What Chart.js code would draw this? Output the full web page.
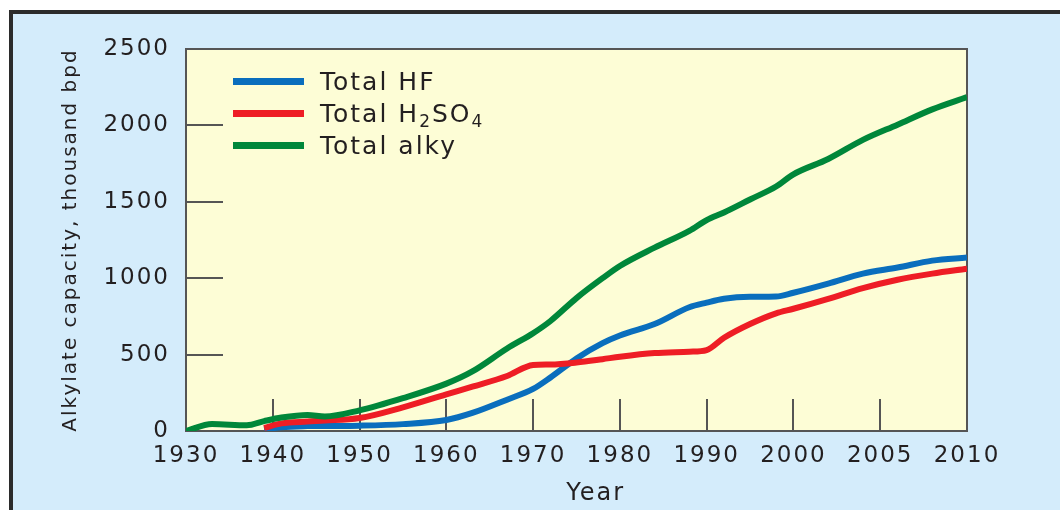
<!DOCTYPE html>
<html>
<head>
<meta charset="utf-8">
<title>Alkylate capacity</title>
<script src="https://cdn.jsdelivr.net/npm/chart.js@4.4.0/dist/chart.umd.min.js"></script>
<style>
  html, body { margin: 0; padding: 0; background: #fff; overflow: hidden; }
  #wrap { position: relative; width: 1060px; height: 510px; overflow: hidden; }
  #frame {
    position: absolute; left: 9px; top: 10px; width: 1100px; height: 560px;
    background: #d4ecfb; border-left: 4px solid #2b2b2b; border-top: 4px solid #2b2b2b;
  }
  #chart { position: absolute; left: 0; top: 0; }
  #legend {
    position: absolute; left: 233px; top: 65px;
    font-family: 'DejaVu Sans', sans-serif; font-size: 25px; letter-spacing: 2px; color: #231f20;
  }
  .row { display: flex; align-items: center; height: 32px; white-space: nowrap; }
  .swatch { display: inline-block; width: 71px; height: 7px; margin-right: 16px; }
  .row sub { font-size: 17px; line-height: 0; vertical-align: -5px; }
</style>
</head>
<body>
<div id="wrap">
  <div id="frame"></div>
  <canvas id="chart" width="1060" height="510"></canvas>
  <div id="legend"></div>
</div>
<script>
// x axis ticks are evenly spaced, but the last two steps are 5 years instead of 10
const tickYears = [1930, 1940, 1950, 1960, 1970, 1980, 1990, 2000, 2005, 2010];

const years = [1930, 1933, 1937, 1939, 1941, 1944, 1946, 1950, 1955, 1960, 1963, 1967, 1970, 1972,
               1975, 1978, 1980, 1984, 1988, 1990, 1992, 1995, 1998, 2000, 2002, 2004, 2006, 2008, 2010];

const hfValues = [null, null, null, 10, 25, 32, 33, 35, 45, 72, 118, 205, 275, 350,
                  475, 575, 625, 700, 810, 840, 865, 878, 880, 905, 965, 1030, 1070, 1115, 1135];

const h2so4Values = [null, null, null, 20, 50, 62, 68, 85, 155, 240, 290, 360, 432, 435,
                     448, 470, 486, 510, 519, 530, 610, 700, 770, 800, 865, 935, 990, 1030, 1062];

const alkyValues = [0, 45, 38, 65, 88, 105, 95, 135, 215, 310, 390, 540, 640, 720,
                    870, 1000, 1080, 1200, 1310, 1380, 1430, 1515, 1600, 1680, 1780, 1905, 2005, 2105, 2185];

const seriesNames = ['Total HF', 'Total H2SO4', 'Total alky'];
const seriesColors = ['#0a6ebd', '#ee1d25', '#00873a'];
const seriesValues = [hfValues, h2so4Values, alkyValues];

const FONT = "'DejaVu Sans', sans-serif";
const TEXT = '#231f20';

function yearToPos(year) {
    for (let i = 1; i < tickYears.length; i++) {
        if (year <= tickYears[i]) {
            return i - 1 + (year - tickYears[i - 1]) / (tickYears[i] - tickYears[i - 1]);
        }
    }
    return tickYears.length - 1;
}

// yellow plot box, its frame and the short inward tick marks
const plotDecor = {
    id: 'plotDecor',
    beforeLayout(chart) { chart.ctx.letterSpacing = '2px'; },
    beforeDraw(chart) { chart.ctx.letterSpacing = '2px'; },
    beforeDatasetsDraw(chart) {
        const { ctx, chartArea: a, scales: { x, y } } = chart;
        ctx.save();
        ctx.fillStyle = '#fdfdd6';
        ctx.fillRect(a.left, a.top, a.right - a.left, a.bottom - a.top);
        ctx.strokeStyle = '#555';
        ctx.lineWidth = 2;
        ctx.beginPath();
        y.ticks.forEach(t => {
            if (t.value > y.min && t.value < y.max) {
                const py = Math.round(y.getPixelForValue(t.value));
                ctx.moveTo(a.left, py);
                ctx.lineTo(a.left + 37, py);
            }
        });
        x.ticks.forEach(t => {
            if (t.value > x.min && t.value < x.max) {
                const px = Math.round(x.getPixelForValue(t.value));
                ctx.moveTo(px, a.bottom);
                ctx.lineTo(px, a.bottom - 32);
            }
        });
        ctx.stroke();
        ctx.strokeRect(a.left, a.top, a.right - a.left, a.bottom - a.top);
        ctx.restore();
    }
};

new Chart(document.getElementById('chart'), {
    type: 'line',
    data: {
        datasets: seriesNames.map((name, i) => ({
            label: name,
            data: years.map((yr, j) => ({ x: yearToPos(yr), y: seriesValues[i][j] })),
            borderColor: seriesColors[i],
            backgroundColor: seriesColors[i],
            borderWidth: 6,
            borderJoinStyle: 'round',
            pointRadius: 0,
            cubicInterpolationMode: 'monotone',
            order: 3 - i
        }))
    },
    options: {
        responsive: false,
        animation: false,
        layout: { padding: { left: 40, top: 49, right: 93, bottom: 0 } },
        plugins: {
            legend: { display: false },
            tooltip: { enabled: false }
        },
        scales: {
            x: {
                type: 'linear',
                min: 0,
                max: tickYears.length - 1,
                grid: { display: false },
                border: { display: false },
                ticks: {
                    stepSize: 1,
                    autoSkip: false,
                    maxRotation: 0,
                    padding: 3,
                    color: TEXT,
                    font: { family: FONT, size: 23 },
                    callback: v => tickYears[v]
                },
                title: {
                    display: true,
                    text: '    Year',
                    color: TEXT,
                    font: { family: FONT, size: 24, lineHeight: 1 },
                    padding: { top: 0, bottom: 4 }
                },
                afterFit: s => { s.height = 79; }
            },
            y: {
                min: 0,
                max: 2500,
                grid: { display: false },
                border: { display: false },
                ticks: {
                    stepSize: 500,
                    padding: 8,
                    color: TEXT,
                    font: { family: FONT, size: 23 },
                    callback: v => String(v)
                },
                title: {
                    display: true,
                    text: 'Alkylate capacity, thousand bpd',
                    color: TEXT,
                    font: { family: FONT, size: 20, lineHeight: 1.2 },
                    padding: { top: 19, bottom: 0 }
                },
                afterFit: s => { s.width = 146; }
            }
        }
    },
    plugins: [plotDecor]
});

// legend drawn as html so the formula can use subscripts
const legend = document.getElementById('legend');
seriesNames.forEach((name, i) => {
    const row = document.createElement('div');
    row.className = 'row';
    row.innerHTML = '<span class="swatch" style="background:' + seriesColors[i] + '"></span>' +
        '<span>' + name.replace(/([A-Z])(\d)/g, '$1<sub>$2</sub>') + '</span>';
    legend.appendChild(row);
});
</script>
</body>
</html>
